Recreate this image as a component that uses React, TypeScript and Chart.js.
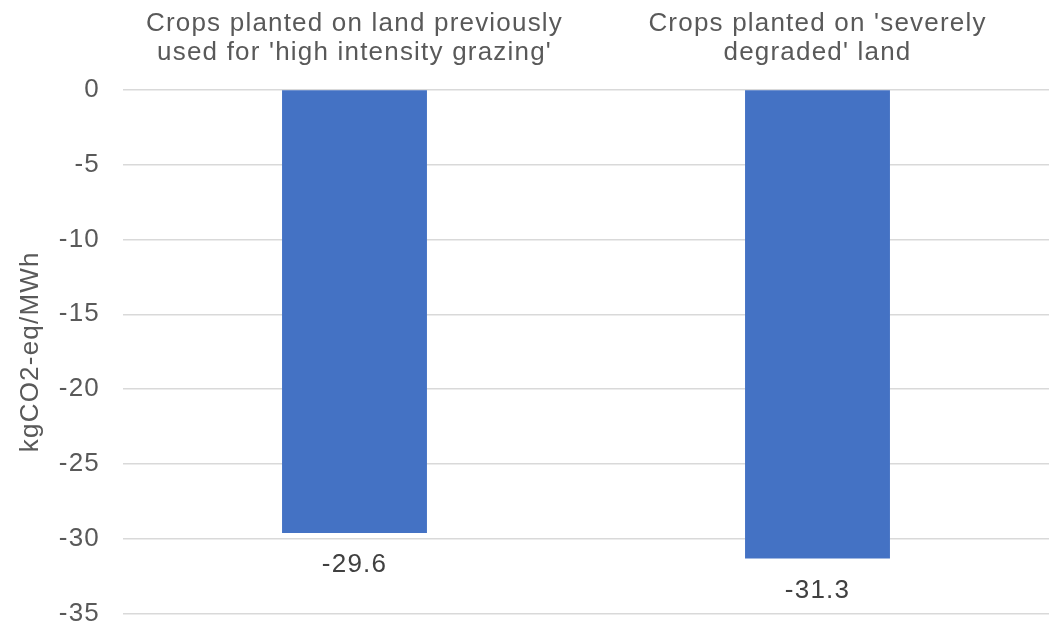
import React, { useEffect, useRef } from 'react';
import { Chart, registerables } from 'chart.js';

Chart.register(...registerables);

const categories: string[][] = [
  ['Crops planted on land previously', "used for 'high intensity grazing'"],
  ["Crops planted on 'severely", "degraded' land"],
];
const values: number[] = [-29.6, -31.3];
const yTickValues: number[] = [0, -5, -10, -15, -20, -25, -30, -35];
const yAxisTitle = 'kgCO2-eq/MWh';

const FONT = '"Liberation Sans", Arial, Helvetica, sans-serif';
const SIZE = 26;
const SPACING = '1.2px';

const spacingPlugin = {
  id: 'letterSpacingPlugin',
  beforeLayout(chart: any) {
    chart.ctx.letterSpacing = SPACING;
  },
  beforeDraw(chart: any) {
    chart.ctx.letterSpacing = SPACING;
  },
};

const dataLabelPlugin = {
  id: 'dataLabelPlugin',
  afterDatasetsDraw(chart: any) {
    const ctx = chart.ctx;
    const meta = chart.getDatasetMeta(0);
    ctx.save();
    ctx.letterSpacing = SPACING;
    ctx.font = `${SIZE}px ${FONT}`;
    ctx.fillStyle = '#404040';
    ctx.textAlign = 'center';
    ctx.textBaseline = 'middle';
    meta.data.forEach((bar: any, i: number) => {
      ctx.fillText(String(values[i]), bar.x, bar.y + 32);
    });
    ctx.restore();
  },
};

export default function App() {
  const ref = useRef<HTMLCanvasElement | null>(null);

  useEffect(() => {
    if (!ref.current) return;
    const chart = new Chart(ref.current, {
      type: 'bar',
      data: {
        labels: categories,
        datasets: [
          {
            data: values,
            backgroundColor: '#4472C4',
            borderWidth: 0,
            categoryPercentage: 1,
            barPercentage: 0.313,
          },
        ],
      },
      options: {
        responsive: false,
        animation: false,
        layout: { padding: { left: 0, right: 7, top: 0, bottom: 15 } },
        plugins: {
          legend: { display: false },
          tooltip: { enabled: false },
          title: { display: false },
        },
        scales: {
          x: {
            position: 'top',
            grid: { display: false, drawTicks: false },
            border: { display: false },
            ticks: {
              color: '#595959',
              font: { family: FONT, size: SIZE, lineHeight: 1.13 },
              padding: 22,
              maxRotation: 0,
              minRotation: 0,
              autoSkip: false,
            },
            afterFit: (scale: any) => {
              scale.height = 89.5;
              scale.paddingLeft = 0;
              scale.paddingRight = 0;
            },
          },
          y: {
            min: -35,
            max: 0,
            grid: { color: '#d9d9d9', lineWidth: 1.5, drawTicks: false },
            border: { display: false },
            afterBuildTicks: (scale: any) => {
              scale.ticks = yTickValues.map((v) => ({ value: v }));
            },
            ticks: {
              color: '#595959',
              font: { family: FONT, size: SIZE },
              padding: 23,
              callback: (v: any) => String(v),
            },
            title: {
              display: true,
              text: yAxisTitle,
              color: '#595959',
              font: { family: FONT, size: SIZE, lineHeight: 1.2 },
              padding: { top: 15, bottom: 0 },
            },
            afterFit: (scale: any) => {
              scale.width = 123;
              scale.paddingTop = 0;
              scale.paddingBottom = 0;
            },
          },
        },
      },
      plugins: [spacingPlugin, dataLabelPlugin],
    } as any);
    return () => chart.destroy();
  }, []);

  return (
    <div style={{ position: 'fixed', left: 0, top: 0, width: 1056, height: 629, background: '#ffffff' }}>
      <canvas ref={ref} width={1056} height={629} />
    </div>
  );
}
